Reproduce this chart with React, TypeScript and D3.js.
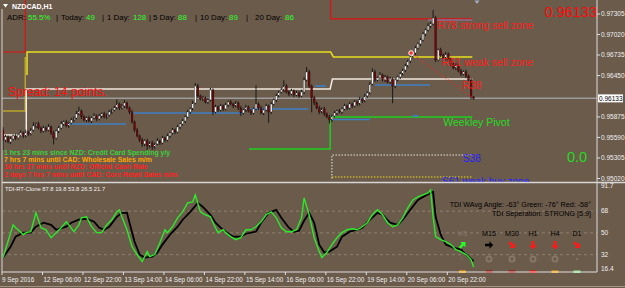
import React from 'react';
import * as d3 from 'd3';

const W = 625;
const H = 288;

// ---------- data ----------
const priceTicks = [0.97305, 0.9702, 0.96735, 0.9645, 0.95875, 0.9559, 0.95305, 0.9502];
const bidPrice = 0.96133;
const tdiLevels = [68, 50, 32];
const tdiMax = 91.7;
const tdiMin = 16.4;
const timeLabels = ['9 Sep 2016', '12 Sep 06:00', '12 Sep 22:00', '13 Sep 14:00', '14 Sep 06:00', '14 Sep 22:00', '15 Sep 14:00', '16 Sep 06:00', '16 Sep 22:00', '19 Sep 14:00', '20 Sep 06:00', '20 Sep 22:00'];
const timeLabelStep = 16;

const firstOpen = 0.95694;
const closes = [
  0.95555, 0.95597, 0.95528, 0.95569, 0.95611, 0.95583, 0.95625, 0.95653, 0.95611, 0.95667,
  0.95639, 0.95694, 0.9575, 0.95778, 0.95722, 0.9568, 0.95722, 0.95694, 0.95736, 0.95653,
  0.95583, 0.9568, 0.95722, 0.95778, 0.95805, 0.9575, 0.95792, 0.95833, 0.95861, 0.95917,
  0.95958, 0.95875, 0.95833, 0.95861, 0.95819, 0.95861, 0.95889, 0.95847, 0.95889, 0.95917,
  0.95875, 0.95903, 0.95944, 0.95972, 0.96, 0.96055, 0.96, 0.96028, 0.96069, 0.96,
  0.95944, 0.95805, 0.95694, 0.95611, 0.95555, 0.955, 0.95542, 0.95472, 0.95514, 0.95458,
  0.955, 0.95542, 0.95514, 0.95583, 0.95555, 0.95611, 0.95653, 0.95694, 0.95667, 0.95736,
  0.95778, 0.95819, 0.95875, 0.95944, 0.95986, 0.96069, 0.96305, 0.96167, 0.96125, 0.96139,
  0.96083, 0.96111, 0.9625, 0.95944, 0.96014, 0.95972, 0.96028, 0.95986, 0.96042, 0.96083,
  0.96055, 0.96028, 0.96069, 0.96, 0.9593, 0.95972, 0.96014, 0.95958, 0.9593, 0.95986,
  0.96055, 0.96, 0.9593, 0.95972, 0.96028, 0.95944, 0.96055, 0.96111, 0.96167, 0.96222,
  0.9625, 0.96305, 0.96222, 0.96194, 0.96236, 0.9618, 0.96208, 0.96167, 0.96222, 0.96389,
  0.965, 0.96305, 0.96139, 0.96069, 0.96, 0.95944, 0.95986, 0.95917, 0.95875, 0.95833,
  0.95889, 0.9593, 0.95958, 0.95944, 0.95986, 0.96028, 0.96, 0.96055, 0.96028, 0.96083,
  0.96055, 0.96125, 0.96097, 0.96167, 0.96208, 0.96333, 0.965, 0.96389, 0.96417, 0.96458,
  0.96389, 0.9643, 0.96361, 0.96403, 0.96305, 0.96389, 0.9643, 0.96472, 0.96528, 0.96583,
  0.96653, 0.96708, 0.96764, 0.96833, 0.96889, 0.96944, 0.97028, 0.97083, 0.97139, 0.97167,
  0.9725, 0.96667, 0.96806, 0.96736, 0.96694, 0.9675, 0.96667, 0.96611, 0.96555, 0.96597,
  0.96514, 0.96472, 0.965, 0.96444, 0.96389, 0.96153, 0.96133,
];
// wick lengths in pips
const wickUp = [
  4, 3, 2, 3, 2, 3, 2, 4, 2, 3, 2, 3, 5, 2, 3, 2, 3, 2, 4, 2,
  3, 2, 3, 4, 2, 3, 2, 3, 2, 4, 6, 2, 3, 2, 3, 2, 4, 2, 3, 2,
  3, 2, 3, 2, 3, 6, 2, 3, 4, 2, 2, 3, 2, 3, 2, 3, 2, 3, 2, 3,
  2, 4, 2, 3, 2, 3, 2, 3, 2, 3, 2, 3, 2, 3, 2, 3, 4, 3, 2, 3,
  2, 3, 3, 2, 3, 2, 3, 2, 3, 2, 3, 2, 3, 2, 3, 2, 3, 2, 3, 2,
  26, 2, 3, 2, 3, 2, 3, 2, 3, 2, 3, 8, 3, 2, 3, 2, 3, 2, 3, 4,
  7, 3, 2, 3, 2, 3, 2, 3, 2, 3, 2, 3, 2, 3, 2, 3, 2, 3, 2, 3,
  2, 3, 2, 3, 2, 3, 5, 3, 2, 4, 2, 3, 2, 3, 2, 3, 2, 3, 2, 3,
  2, 3, 2, 3, 2, 3, 3, 2, 4, 3, 11, 3, 2, 3, 2, 3, 2, 3, 2, 3,
  2, 3, 2, 3, 2, 3, 1,
];
const wickDn = [
  14, 3, 2, 3, 2, 3, 2, 2, 3, 2, 3, 2, 2, 3, 2, 3, 2, 3, 2, 3,
  9, 2, 3, 2, 3, 2, 3, 2, 3, 2, 2, 3, 2, 3, 2, 3, 2, 3, 2, 3,
  2, 3, 2, 3, 2, 2, 3, 2, 3, 2, 3, 2, 3, 2, 3, 4, 3, 6, 3, 4,
  3, 2, 3, 2, 3, 2, 3, 2, 3, 2, 3, 2, 3, 2, 3, 2, 2, 3, 2, 3,
  2, 3, 2, 4, 2, 3, 2, 3, 2, 3, 2, 3, 2, 3, 4, 2, 3, 2, 3, 2,
  2, 3, 2, 3, 2, 15, 3, 2, 3, 2, 2, 3, 2, 3, 2, 3, 2, 3, 2, 3,
  2, 3, 20, 3, 2, 3, 2, 3, 2, 5, 3, 2, 3, 2, 3, 2, 3, 2, 3, 2,
  3, 2, 3, 2, 3, 2, 2, 3, 2, 3, 2, 3, 2, 3, 24, 3, 2, 3, 2, 3,
  2, 3, 2, 3, 2, 3, 2, 3, 2, 3, 2, 3, 2, 3, 2, 3, 2, 3, 2, 3,
  2, 3, 2, 3, 2, 3, 2,
];

// pivot / zone lines: [bar, price]
const redPivot = [[0, 0.96777], [8.8, 0.96777], [8.8, 0.9765]];
const redPivot2 = [[129.5, 0.9765], [129.5, 0.97236], [185.5, 0.97236]];
const purpleLevel = [[168, 0.97222], [185.5, 0.97222]];
const olivePivot = [[0, 0.95958], [8.8, 0.95958], [8.8, 0.96708]];
const yellowPivot = [[9.5, 0.96458], [9.5, 0.96777], [129.5, 0.96777], [130.6, 0.96708], [185.5, 0.96708]];
const whitePivot = [[0, 0.95624], [9.2, 0.95624], [9.2, 0.96263], [129.3, 0.96263], [130.2, 0.96402], [185.5, 0.96402]];
const blueLevels = [
  [26.5, 48.6, 0.95777], [51.4, 94.9, 0.9593], [96.8, 120.6, 0.95985], [123.3, 127.7, 0.96305],
  [130, 145, 0.9584], [147, 168.8, 0.96319], [162, 163.8, 0.95888],
];
const weeklyPivot = [[97.2, 0.9543], [129.3, 0.9543], [129.3, 0.95874], [185.5, 0.95874]];
const fibLine = [[161.3, 0.96763], [185.8, 0.96138]];
const s38Zone = [[130, 0.9502], [130, 0.95346], [185.5, 0.95346]];
const s61Zone = [[130, 0.95041], [185.5, 0.95041]];

// TDI: [bar, value]
const tdiGreen = [
  [0, 29.6], [4, 56.7], [5, 54.3], [6, 52.6], [8, 48.5], [9, 50.2], [11, 51.0], [13, 66.6], [14, 60.9], [15, 54.3],
  [17, 52.6], [19, 46.0], [21, 50.2], [23, 54.3], [25, 59.2], [26, 56.7], [28, 51.0], [30, 56.7], [31, 62.5], [33, 63.3],
  [35, 55.1], [37, 50.2], [39, 50.2], [41, 56.7], [43, 60.9], [45, 67.4], [46, 69.1], [47, 63.3], [49, 52.6], [51, 38.6],
  [53, 32.1], [55, 26.3], [57, 34.5], [58, 30.4], [60, 32.1], [62, 41.9], [64, 52.6], [65, 50.2], [67, 55.1], [69, 62.5],
  [71, 67.4], [73, 74.8], [75, 75.7], [76, 81.4], [78, 67.4], [80, 65.0], [82, 63.3], [83, 58.4], [85, 50.2], [87, 52.6],
  [88, 50.2], [90, 46.9], [92, 44.4], [94, 46.0], [96, 52.6], [98, 52.6], [100, 55.1], [102, 59.2], [104, 65.0], [106, 67.4],
  [108, 62.5], [110, 54.3], [112, 51.0], [114, 51.0], [116, 52.6], [118, 62.5], [119, 79.0], [121, 65.0], [123, 46.0], [125, 34.5],
  [126, 29.6], [128, 33.7], [130, 40.3], [132, 46.0], [134, 50.2], [136, 52.6], [138, 53.4], [140, 52.6], [142, 55.1], [144, 58.4],
  [146, 65.0], [148, 69.1], [150, 65.0], [152, 58.4], [154, 55.1], [156, 56.7], [158, 62.5], [160, 70.7], [162, 77.3], [164, 79.8],
  [166, 81.4], [168, 83.1], [169, 85.5], [170, 63.3], [171, 46.9], [173, 44.4], [175, 42.7], [177, 40.3], [179, 36.2], [181, 34.5],
  [183, 32.1], [185, 27.9], [186, 21.7],
];
const tdiBlack = [
  [0, 29.6], [3, 38.6], [5, 46.9], [8, 50.2], [11, 50.2], [13, 55.1], [16, 58.4], [19, 56.7], [21, 52.6], [25, 55.1],
  [27, 58.4], [30, 60.9], [33, 61.7], [36, 59.2], [38, 54.3], [40, 52.6], [42, 55.1], [45, 63.3], [47, 66.6], [49, 66.6],
  [50, 58.4], [52, 42.7], [54, 32.1], [56, 29.6], [59, 30.4], [61, 33.7], [63, 40.3], [66, 48.5], [69, 55.1], [71, 60.9],
  [74, 67.4], [77, 74.8], [79, 71.5], [82, 65.0], [84, 58.4], [86, 54.3], [88, 51.0], [91, 46.9], [94, 46.9], [96, 49.3],
  [100, 51.0], [102, 58.4], [105, 66.6], [108, 69.1], [110, 62.5], [113, 54.3], [115, 51.0], [117, 51.8], [119, 60.0], [121, 66.6],
  [123, 58.4], [125, 40.3], [127, 33.7], [129, 34.5], [132, 38.6], [134, 46.9], [137, 51.0], [140, 52.6], [142, 54.3], [145, 60.9],
  [148, 66.6], [150, 65.0], [153, 58.4], [156, 56.7], [158, 60.9], [161, 69.1], [164, 77.3], [166, 79.8], [169, 83.1], [170, 83.9],
  [171, 63.3], [173, 48.5], [175, 40.3], [178, 37.8], [181, 36.2], [183, 32.1], [186, 26.5],
];

const adrItems = [
  { t: 'ADR:', c: '#000' }, { t: '55.5%', c: '#2bff2b' }, { t: '|', c: '#000' }, { t: 'Today:', c: '#000' }, { t: '49', c: '#2bff2b' },
  { t: '|', c: '#000' }, { t: '1 Day:', c: '#000' }, { t: '128', c: '#2bff2b' }, { t: '|', c: '#000' }, { t: '5 Day:', c: '#000' },
  { t: '88', c: '#2bff2b' }, { t: '|', c: '#000' }, { t: '10 Day:', c: '#000' }, { t: '89', c: '#2bff2b' }, { t: '|', c: '#000' },
  { t: '20 Day:', c: '#000' }, { t: '86', c: '#2bff2b' },
];
const adrX = [7, 28, 56, 61, 86, 102, 107, 133, 149, 153, 178, 195, 200, 229, 246, 255, 285];

const newsLines = [
  { t: '1 hrs 23 mins since NZD: Credit Card Spending y/y', c: '#3ad13a' },
  { t: '7 hrs 7 mins until CAD: Wholesale Sales m/m', c: '#ffa500' },
  { t: '16 hrs 37 mins until NZD: Official Cash Rate', c: '#ff2222' },
  { t: '2 days 7 hrs 7 mins until CAD: Core Retail Sales m/m', c: '#ff2222' },
];

const tfNames = ['M5', 'M15', 'M30', 'H1', 'H4', 'D1'];
const tfArrowAngle = [-45, 0, 45, 90, 90, 45];
const tfArrowColor = ['#22ff22', '#000000', '#ff1a1a', '#ff1a1a', '#ff1a1a', '#ff1a1a'];
const tfBarColor = ['#ffa500', '#a00000', '#a00000', '#ff0000', '#ffa500', '#90ee90'];

// ---------- layout ----------
const BG = '#6b5b4b';
const FONT = 'Liberation Sans, Arial, sans-serif';
const plotL = 2;
const plotR = 597;
const mainBottom = 182;
const subTop = 183.5;
const subBottom = 272;

export default function App() {
  const x = d3.scaleLinear().domain([0, closes.length - 1]).range([3, 473.6]);
  const y = d3.scaleLinear().domain([0.9502, 0.97305]).range([178.5, 14]);
  const ys = d3.scaleLinear().domain([tdiMin, tdiMax]).range([273.5, 182.5]);
  const pip = 0.0001;

  const candles = closes.map((c, i) => {
    const o = i === 0 ? firstOpen : closes[i - 1];
    return { i, o, c, h: Math.max(o, c) + wickUp[i] * pip, l: Math.min(o, c) - wickDn[i] * pip };
  });

  const pl = d3.line<number[]>().x((d) => x(d[0])).y((d) => y(d[1]));
  const tl = d3.line<number[]>().x((d) => x(d[0])).y((d) => ys(d[1]));

  const bodyW = 1.8;
  const tfX = [462.5, 489, 512, 533, 555, 577];

  const arrowPath = 'M-4,-1.3 L0.5,-1.3 L0.5,-3.8 L4.2,0 L0.5,3.8 L0.5,1.3 L-4,1.3 Z';

  return (
    <svg width={W} height={H} style={{ position: 'fixed', left: 0, top: 0, background: BG }} fontFamily={FONT}>
      <defs>
        <clipPath id="mainClip"><rect x={plotL} y={0} width={plotR - plotL} height={mainBottom} /></clipPath>
        <clipPath id="subClip"><rect x={plotL} y={subTop} width={plotR - plotL} height={subBottom - subTop} /></clipPath>
      </defs>
      <rect x={0} y={0} width={W} height={H} fill={BG} />

      {/* ---------- main window ---------- */}
      <g clipPath="url(#mainClip)">
        <line x1={plotL} x2={plotR} y1={y(bidPrice)} y2={y(bidPrice)} stroke="#9c9c9c" strokeWidth={1.5} />
        <path d={pl(olivePivot as any) || ''} fill="none" stroke="#b9a52a" strokeWidth={1.5} />
        <path d={pl(redPivot as any) || ''} fill="none" stroke="#e01010" strokeWidth={1.2} />
        <path d={pl(redPivot2 as any) || ''} fill="none" stroke="#e01010" strokeWidth={1.2} />
        <path d={pl(purpleLevel as any) || ''} fill="none" stroke="#9a7ab4" strokeWidth={1} />
        <path d={pl(yellowPivot as any) || ''} fill="none" stroke="#e8e01c" strokeWidth={1.5} />
        <path d={pl(whitePivot as any) || ''} fill="none" stroke="#f2ece0" strokeWidth={1.5} />
        {blueLevels.map((b, k) => (
          <line key={'b' + k} x1={x(b[0])} x2={x(b[1])} y1={y(b[2])} y2={y(b[2])} stroke="#3f7fc4" strokeWidth={1.6} />
        ))}
        <path d={pl(weeklyPivot as any) || ''} fill="none" stroke="#1fd11f" strokeWidth={1.5} />
        <line x1={x(162)} x2={x(164)} y1={y(0.95888)} y2={y(0.95888)} stroke="#3f7fc4" strokeWidth={2} />
        <path d={pl(s38Zone as any) || ''} fill="none" stroke="#e8e8e8" strokeWidth={1} strokeDasharray="1.5,1.5" />
        <path d={pl(s61Zone as any) || ''} fill="none" stroke="#e8dc20" strokeWidth={1} strokeDasharray="1.5,1.5" />

        {candles.map((d) => {
          const up = d.c >= d.o;
          const top = y(Math.max(d.o, d.c));
          const bot = y(Math.min(d.o, d.c));
          return (
            <g key={d.i}>
              <line x1={x(d.i)} x2={x(d.i)} y1={y(d.h)} y2={y(d.l)} stroke="#111" strokeWidth={0.9} />
              <rect x={x(d.i) - bodyW / 2} y={top} width={bodyW} height={Math.max(0.8, bot - top)}
                fill={up ? '#f4f4f4' : '#7a0404'} stroke="#151515" strokeWidth={0.35} />
            </g>
          );
        })}

        <path d={pl(fibLine as any) || ''} fill="none" stroke="#ff2020" strokeWidth={1} strokeDasharray="1.5,2" />
        <circle cx={x(fibLine[0][0])} cy={y(fibLine[0][1])} r={2.3} fill="#ff2a2a" stroke="#ffffff" strokeWidth={1} />

        <text x={x(171.8)} y={y(0.97236) + 10} fontSize={10.5} fill="#ff1c1c">R78 strong sell zone</text>
        <text x={x(173.5)} y={y(0.96708) + 9} fontSize={10.5} fill="#ff1c1c">R61 weak sell zone</text>
        <text x={x(181.5)} y={y(0.96402) + 10} fontSize={10.5} fill="#ff1c1c">R38</text>
        <text x={x(174)} y={y(0.95874) + 9} fontSize={10.5} fill="#22dd22">Weekley Pivot</text>
        <text x={x(181.8)} y={y(0.95346) + 7} fontSize={10} fill="#2323ff">S38</text>
        <text x={x(173.5)} y={y(0.95041) + 8} fontSize={10} fill="#2323ff">S61 weak buy zone</text>

        <text x={8} y={96} fontSize={12.2} fill="#ff1010">Spread: 14 points.</text>
        {newsLines.map((n, k) => (
          <text key={'n' + k} x={4} y={154.6 + k * 7.4} fontSize={6.9} fontWeight="bold" fill={n.c}>{n.t}</text>
        ))}
        <text x={597} y={17} fontSize={14.5} fill="#ff0a0a" textAnchor="end">0.96133</text>
        <text x={567} y={162} fontSize={14.5} fill="#22dd22">0.0</text>
      </g>

      {/* header */}
      <path d="M3,4 L8,4 L5.5,7.5 Z" fill="#ffffff" />
      <text x={12} y={8.5} fontSize={7} fontWeight="bold" fill="#ffffff">NZDCAD,H1</text>
      {adrItems.map((a, k) => (
        <text key={'a' + k} x={adrX[k]} y={19.5} fontSize={7.9} fill={a.c}>{a.t}</text>
      ))}
      <path d="M474.5,0.5 L479.5,0.5 L477,4 Z" fill="#9fb0c4" />

      {/* ---------- sub window ---------- */}
      <g clipPath="url(#subClip)">
        {tdiLevels.map((v) => (
          <line key={'l' + v} x1={plotL} x2={plotR} y1={ys(v)} y2={ys(v)} stroke="#8f8070" strokeWidth={1} strokeDasharray="3,3" />
        ))}
        <path d={tl(tdiBlack as any) || ''} fill="none" stroke="#000" strokeWidth={1.8} />
        <path d={tl(tdiGreen as any) || ''} fill="none" stroke="#2bea2b" strokeWidth={1.4} />
      </g>
      <text x={5} y={191} fontSize={5.8} fill="#f4f4f4">TDI-RT-Clone 87.8 19.8 53.8 26.5 21.7</text>
      <text x={591} y={206.5} fontSize={7.2} fill="#000" textAnchor="end">TDI WAvg Angle: -63° Green: -76° Red: -58°</text>
      <text x={591} y={215.5} fontSize={7.2} fill="#000" textAnchor="end">TDI Seperation: STRONG [5.9]</text>
      {tfNames.map((n, k) => (
        <g key={'tf' + k}>
          <text x={tfX[k]} y={235.5} fontSize={7.2} textAnchor="middle" fill={k === 0 ? '#86766a' : '#000'}>{n}</text>
          <path d={arrowPath} transform={`translate(${tfX[k]},245) rotate(${tfArrowAngle[k]})`} fill={tfArrowColor[k]} />
          {k > 0 && k < 5 && <circle cx={tfX[k]} cy={259} r={2.6} fill="none" stroke="#877868" strokeWidth={1.8} />}
          {k === 5 && <circle cx={tfX[k]} cy={259} r={1} fill="#877868" />}
          <rect x={tfX[k] - 3.5} y={270.5} width={7} height={2.5} fill={tfBarColor[k]} />
        </g>
      ))}
      <text x={tfX[0] - 3} y={261} fontSize={7} fill="#7c6c5e">=</text>

      {/* ---------- frames ---------- */}
      <line x1={plotL} x2={plotL} y1={9} y2={subBottom} stroke="#d8d8d8" strokeWidth={1} />
      <line x1={plotR} x2={plotR} y1={0} y2={subBottom} stroke="#e0e0e0" strokeWidth={1} />
      <line x1={plotL} x2={plotR + 28} y1={182.5} y2={182.5} stroke="#d6d6d6" strokeWidth={1.5} />
      <line x1={plotL} x2={plotR} y1={subBottom} y2={subBottom} stroke="#e0e0e0" strokeWidth={1} />
      <line x1={0} x2={W} y1={286.5} y2={286.5} stroke="#a39584" strokeWidth={1} />

      {priceTicks.map((p) => (
        <g key={'p' + p}>
          <line x1={plotR} x2={plotR + 3} y1={y(p)} y2={y(p)} stroke="#e0e0e0" />
          <text x={601} y={y(p) + 2.3} fontSize={6.5} fill="#f0f0f0">{p.toFixed(5)}</text>
        </g>
      ))}
      <rect x={598} y={y(bidPrice) - 4} width={25} height={8} fill="#ffffff" />
      <text x={599} y={y(bidPrice) + 2.3} fontSize={6.5} fill="#000">{bidPrice.toFixed(5)}</text>

      <text x={601} y={ys(tdiMax) + 5.5} fontSize={6.5} fill="#f0f0f0">{tdiMax.toFixed(1)}</text>
      {tdiLevels.map((v) => (
        <text key={'tv' + v} x={601} y={ys(v) + 2.3} fontSize={6.5} fill="#f0f0f0">{v}</text>
      ))}
      <text x={601} y={ys(tdiMin) - 2.5} fontSize={6.5} fill="#f0f0f0">{tdiMin.toFixed(1)}</text>

      {timeLabels.map((t, k) => {
        const tx = x(k * timeLabelStep) - 1;
        return (
          <g key={'t' + k}>
            <line x1={tx} x2={tx} y1={subBottom} y2={subBottom + 3} stroke="#e0e0e0" />
            <text x={k === 0 ? 2 : tx + 1} y={281.5} fontSize={6.3} fill="#f0f0f0">{t}</text>
          </g>
        );
      })}
    </svg>
  );
}
